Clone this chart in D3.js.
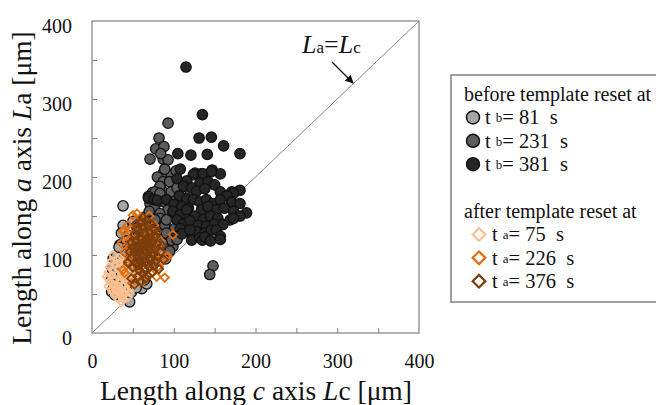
<!DOCTYPE html>
<html lang="en">
<head>
<meta charset="utf-8">
<script src="https://d3js.org/d3.v7.min.js"></script>
<style>
  body { margin: 0; background: #fff; }
  svg, svg text { font-family: "Liberation Serif", "Times New Roman", serif; }
  .axis path { display: none; }
  .axis line { stroke: #808080; }
</style>
</head>
<body>
<div id="chart"></div>
<script>
// plot setup
var width = 656, height = 405;
var serif = "'Liberation Serif', 'Times New Roman', serif";

// data: [Lc, La] in um
var before81 = [
  [38,163],[38,138],[36,128],[34,113],[26,96],[24,83],[24,70],[24,53],[28,49],[34,51],[46,40],[61,57],[67,63],
  [71,136],[77,145],[50,143],[93,128],[45,125],[42,118],[30,100],[32,88],[28,75],[30,62],[36,58],[40,70],[42,82],
  [48,95],[52,108],[58,118],[62,130],[66,112],[70,100],[74,92],[80,110],[84,122],[55,88],[60,75],[64,68],[45,60],
  [38,95],[40,105],[50,80],[56,65],[33,110],[27,60],[48,52],[54,58],[72,120],[78,130],[86,102],[90,95],[36,75],[44,68]
];
var before231 = [
  [93,269],[82,250],[78,236],[88,239],[71,223],[87,223],[93,222],[84,230],
  [87,205],[97,203],[89,210],[103,208],[80,200],
  [74,180],[87,181],[95,173],[87,194],[95,194],[83,188],[77,181],[69,175],[97,181],[104,186],
  [83,179],[81,168],[71,166],[89,168],[93,158],[76,160],[65,149],[83,153],[99,153],[83,147],[103,160],
  [85,136],[89,138],[101,134],[91,128],[108,128],[99,111],[97,119],[91,145],[77,145],[70,156],
  [110,140],[104,120],[113,150],[60,140],[63,128],[72,130],[78,120],[86,115],[95,105],
  [145,136],[148,86],[144,75],[52,120],[55,135],[68,118],[45,112],[50,100],[115,165],[108,172],[120,178]
];
var before381 = [
  [115,341],[135,280],[131,250],[146,251],[161,240],[105,230],[121,228],[141,229],[181,230],
  [108,210],[147,209],[157,204],[126,205],[133,204],[124,203],[136,204],[146,207],
  [116,195],[132,192],[142,194],[104,198],[112,188],[122,186],[128,182],[138,185],[150,190],
  [157,181],[171,181],[181,183],[173,179],[165,176],
  [69,173],[76,171],[80,170],[91,171],[107,176],[116,172],[124,171],[132,168],[140,171],[148,166],[157,171],[171,168],[181,166],
  [100,165],[110,162],[118,160],[134,158],[142,162],[153,158],[162,160],[173,156],[189,154],[181,150],
  [99,156],[108,152],[116,158],[126,150],[136,145],[145,150],[154,147],[169,145],[173,147],
  [104,145],[112,140],[120,144],[130,138],[140,137],[150,140],[160,139],
  [108,134],[118,130],[128,130],[138,128],[146,132],[152,132],[157,124],
  [110,127],[120,132],[122,119],[132,122],[135,119],[138,123],[145,118],[157,120]
];
var after75 = [
  [26,100],[30,95],[24,92],[22,85],[28,88],[34,90],[38,86],[20,78],[26,80],[32,82],[36,78],[42,80],[18,72],[24,74],
  [30,74],[36,72],[42,74],[48,76],[22,66],[28,68],[34,66],[40,68],[46,70],[20,60],[26,62],[32,60],[38,62],[44,64],
  [50,66],[24,56],[30,54],[36,56],[42,56],[48,58],[28,48],[34,50],[40,50],[46,52],[32,44],[38,44],[44,46],[36,40],
  [30,58],[40,90],[46,84],[52,72],[20,70],[34,96],[38,52],[26,52]
];
var after226 = [
  [55,153],[60,148],[50,151],[39,132],[44,138],[76,138],[99,126],[93,98],[89,71],[79,72],[40,77],[49,64],
  [82,85],[38,130],[36,115],[40,104],[38,81],[73,87],[91,98],[48,122],[54,140],[64,144],[70,150],[68,132],[58,126],
  [46,110],[52,100],[62,118],[74,120],[80,110],[86,102],[44,92],[50,86],[60,92],[66,80],[72,76],[56,74],[62,66],
  [84,92],[78,100],[70,104],[46,96],[42,124],[58,136],[66,124],[76,128],[84,118],[52,114],[56,84],[64,100],[72,112],[48,134],[60,106]
];
var after376 = [
  [52,62],[48,70],[56,72],[62,76],[68,74],[74,78],[58,80],[64,82],[70,84],[76,86],[50,84],[54,88],[60,90],
  [66,92],[72,94],[78,92],[48,96],[56,96],[62,98],[68,100],[74,100],[80,98],[52,104],[58,104],[64,106],[70,106],
  [76,108],[50,110],[56,112],[62,112],[68,114],[74,116],[80,114],[54,118],[60,120],[66,120],[72,122],[78,124],
  [52,126],[58,128],[64,128],[70,130],[76,132],[56,134],[62,136],[68,138],[60,142],[66,144],[54,140],[58,110],[64,114],
  [70,96],[60,100],[66,104],[72,108],[56,100],[62,92],[58,88],[68,88],[64,118],[70,118],[54,108],[84,104],[86,112],
  [46,104],[48,116],[80,130],[62,148],[72,140],[44,90],[82,82],[60,66],[66,70],[88,94]
];

var circleSeries = [
  {label: "81", data: before81, fill: "#a6a6a6"},
  {label: "231", data: before231, fill: "#5c5c5c"},
  {label: "381", data: before381, fill: "#262626"}
];
var diamondSeries = [
  {label: "75", data: after75, stroke: "#fac090"},
  {label: "226", data: after226, stroke: "#e46c0a"},
  {label: "376", data: after376, stroke: "#7b3d0c"}
];
var xLabels = [0, 100, 200, 300, 400];
var minorTicks = [50, 100, 150, 200, 250, 300, 350];

var svg = d3.select("#chart").append("svg")
    .attr("width", width)
    .attr("height", height);

// scales
var x = d3.scaleLinear().domain([0, 400]).range([92, 419]);
var y = d3.scaleLinear().domain([0, 400]).range([333, 21]);

// frame
svg.append("rect")
    .attr("x", x(0)).attr("y", y(400))
    .attr("width", x(400) - x(0)).attr("height", y(0) - y(400))
    .attr("fill", "none").attr("stroke", "#808080").attr("stroke-width", 1.2);

// inward ticks
svg.append("g").attr("class", "axis")
    .attr("transform", "translate(0," + y(0) + ")")
    .call(d3.axisBottom(x).tickValues(minorTicks).tickSize(-5).tickFormat(""));
svg.append("g").attr("class", "axis")
    .attr("transform", "translate(" + x(0) + ",0)")
    .call(d3.axisLeft(y).tickValues(minorTicks).tickSize(-5).tickFormat(""));

// tick labels
svg.append("g").attr("class", "axis")
    .attr("transform", "translate(0," + y(0) + ")")
    .call(d3.axisBottom(x).tickValues(xLabels).tickSize(0).tickPadding(21))
    .attr("font-family", serif).attr("font-size", 20)
    .selectAll("text").attr("fill", "#111").style("font-family", serif);
svg.append("g").attr("class", "axis")
    .attr("transform", "translate(" + x(0) + ",0)")
    .call(d3.axisLeft(y).tickValues(xLabels).tickSize(0).tickPadding(20))
    .attr("font-family", serif).attr("font-size", 20)
    .selectAll("text").attr("dy", "0.55em").attr("fill", "#111").style("font-family", serif);

// diagonal La = Lc
svg.append("line")
    .attr("x1", x(0)).attr("y1", y(0))
    .attr("x2", x(400)).attr("y2", y(400))
    .attr("stroke", "#8a8a8a").attr("stroke-width", 1);

// points
var sq = d3.symbol().type(d3.symbolSquare);
circleSeries.forEach(function(s) {
  svg.append("g").selectAll("circle")
      .data(s.data).enter().append("circle")
      .attr("cx", function(d) { return x(d[0]); })
      .attr("cy", function(d) { return y(d[1]); })
      .attr("r", 5.2)
      .attr("fill", s.fill)
      .attr("stroke", "#111").attr("stroke-width", 1.3);
});
diamondSeries.forEach(function(s) {
  svg.append("g").selectAll("path")
      .data(s.data).enter().append("path")
      .attr("d", sq.size(34))
      .attr("transform", function(d) {
        return "translate(" + x(d[0]) + "," + y(d[1]) + ") rotate(45)";
      })
      .attr("fill", "none")
      .attr("stroke", s.stroke).attr("stroke-width", 1.8);
});

// annotation
svg.append("defs").append("marker")
    .attr("id", "arrow").attr("viewBox", "0 0 10 10")
    .attr("refX", 9).attr("refY", 5)
    .attr("markerWidth", 7).attr("markerHeight", 7)
    .attr("orient", "auto")
  .append("path").attr("d", "M0,0L10,5L0,10z").attr("fill", "#111");
svg.append("line")
    .attr("x1", 332).attr("y1", 62).attr("x2", 353).attr("y2", 83)
    .attr("stroke", "#111").attr("stroke-width", 1.2)
    .attr("marker-end", "url(#arrow)");
var ann = svg.append("text").attr("x", 302).attr("y", 53)
    .attr("font-size", 26).attr("fill", "#111");
ann.append("tspan").attr("font-style", "italic").text("L");
ann.append("tspan").attr("font-size", 17).text("a");
ann.append("tspan").text("=");
ann.append("tspan").attr("font-style", "italic").text("L");
ann.append("tspan").attr("font-size", 17).text("c");

// axis titles
var xt = svg.append("text").attr("x", 256).attr("y", 400)
    .attr("text-anchor", "middle").attr("font-size", 27.5).attr("fill", "#111");
xt.append("tspan").text("Length along ");
xt.append("tspan").attr("font-style", "italic").text("c");
xt.append("tspan").text(" axis ");
xt.append("tspan").attr("font-style", "italic").text("L");
xt.append("tspan").text("c [\u03bcm]");

var yt = svg.append("text")
    .attr("transform", "translate(31,188) rotate(-90)")
    .attr("text-anchor", "middle").attr("font-size", 27.5).attr("fill", "#111");
yt.append("tspan").text("Length along ");
yt.append("tspan").attr("font-style", "italic").text("a");
yt.append("tspan").text(" axis ");
yt.append("tspan").attr("font-style", "italic").text("L");
yt.append("tspan").text("a [\u03bcm]");

// legend
var leg = svg.append("g");
leg.append("rect")
    .attr("x", 451).attr("y", 75).attr("width", 220).attr("height", 227)
    .attr("fill", "#fff").attr("stroke", "#808080").attr("stroke-width", 1.5);
var rowH = 23.4, top0 = 94;
function legRow(i) { return top0 + i * rowH; }

leg.append("text").attr("x", 464).attr("y", legRow(0))
    .attr("dominant-baseline", "central").attr("font-size", 20).attr("fill", "#111")
    .text("before template reset at");
circleSeries.forEach(function(s, i) {
  var cy = legRow(i + 1);
  leg.append("circle").attr("cx", 473).attr("cy", cy).attr("r", 6.5)
      .attr("fill", s.fill).attr("stroke", "#111").attr("stroke-width", 1.5);
  var t = leg.append("text").attr("x", 485).attr("y", cy)
      .attr("dominant-baseline", "central").attr("font-size", 20.5).attr("fill", "#111");
  t.append("tspan").text("t ");
  t.append("tspan").attr("font-size", 13).text("b");
  t.append("tspan").text("= " + s.label + "\u00a0 s");
});

leg.append("text").attr("x", 464).attr("y", legRow(5))
    .attr("dominant-baseline", "central").attr("font-size", 20).attr("fill", "#111")
    .text("after template reset at");
diamondSeries.forEach(function(s, i) {
  var cy = legRow(i + 6);
  leg.append("path").attr("d", sq.size(80))
      .attr("transform", "translate(479," + cy + ") rotate(45)")
      .attr("fill", "none").attr("stroke", s.stroke).attr("stroke-width", 2.2);
  var t = leg.append("text").attr("x", 492).attr("y", cy)
      .attr("dominant-baseline", "central").attr("font-size", 20.5).attr("fill", "#111");
  t.append("tspan").text("t ");
  t.append("tspan").attr("font-size", 13).text("a");
  t.append("tspan").text("= " + s.label + "\u00a0 s");
});
</script>
</body>
</html>
